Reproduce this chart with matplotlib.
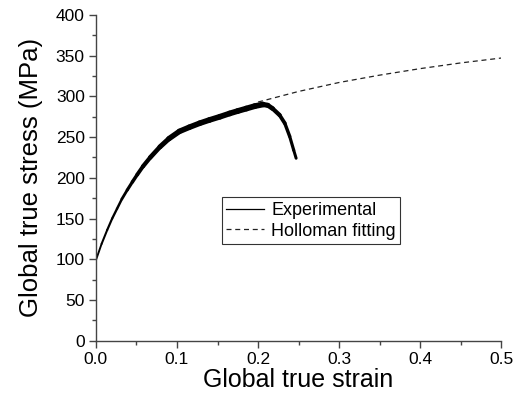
import matplotlib
matplotlib.use("Agg")
import matplotlib.pyplot as plt
import numpy as np
from matplotlib.collections import LineCollection
from matplotlib.lines import Line2D
from matplotlib.ticker import MultipleLocator

plt.rcParams["font.family"] = ["Liberation Sans", "DejaVu Sans"]

# experimental curve
exp_strain = [0.0, 0.007, 0.0139, 0.02, 0.026, 0.032, 0.0386, 0.045, 0.051,
              0.058, 0.067, 0.079, 0.09, 0.103, 0.115, 0.128, 0.14, 0.153,
              0.165, 0.175, 0.1855, 0.196, 0.206, 0.212, 0.218, 0.2266,
              0.233, 0.239, 0.244, 0.247]
exp_stress = [99, 119, 136, 150, 162, 174, 185, 195, 204,
              214, 225, 238, 248, 257, 262, 267, 271, 275,
              279, 282, 285, 288, 290, 289, 285, 277,
              267, 251, 234, 224]

# Holloman fit (dashed)
fit_strain = [0.2, 0.25, 0.3, 0.35, 0.4, 0.45, 0.5]
fit_stress = [293, 306, 317, 326, 334, 341, 347]

fig = plt.figure(figsize=(5.13, 4.01), dpi=100)
ax = fig.add_axes([0.187, 0.150, 0.790, 0.813])

# the measured curve is noisy: thin near the origin, a thick band further up
pts = np.column_stack([exp_strain, exp_stress])
segs = np.stack([pts[:-1], pts[1:]], axis=1)
mid = 0.5 * (pts[:-1, 0] + pts[1:, 0])
widths = np.interp(mid, [0.0, 0.03, 0.06, 0.1, 0.2, 0.215, 0.235, 0.25],
                   [1.3, 1.8, 3.0, 4.0, 4.2, 3.4, 2.5, 2.0])
ax.add_collection(LineCollection(segs, colors="black", linewidths=widths,
                                 capstyle="round", joinstyle="round"))
ax.plot(fit_strain, fit_stress, color="#222222", lw=0.9, ls=(0, (4, 3)))

ax.set_xlim(0, 0.5)
ax.set_ylim(0, 400)
ax.xaxis.set_major_locator(MultipleLocator(0.1))
ax.xaxis.set_minor_locator(MultipleLocator(0.05))
ax.yaxis.set_major_locator(MultipleLocator(50))
ax.yaxis.set_minor_locator(MultipleLocator(25))

for side in ["top", "right"]:
    ax.spines[side].set_visible(False)
for side in ["left", "bottom"]:
    ax.spines[side].set_color("#444444")
    ax.spines[side].set_linewidth(1.0)

ax.tick_params(which="major", direction="out", length=5, width=1,
               color="#444444", labelsize=12.5, pad=3)
ax.tick_params(which="minor", direction="out", length=3, width=1,
               color="#444444")

ax.set_xlabel("Global true strain", fontsize=18, labelpad=1)
ax.set_ylabel("Global true stress (MPa)", fontsize=18.5, labelpad=9)

handles = [Line2D([], [], color="black", lw=0.9),
           Line2D([], [], color="#222222", lw=0.9, ls=(0, (4, 3)))]
leg = ax.legend(handles, ["Experimental", "Holloman fitting"],
                loc="upper left", bbox_to_anchor=(0.31, 0.44), fontsize=13,
                frameon=True, fancybox=False, handlelength=2.1,
                borderpad=0.25, labelspacing=0.2, handletextpad=0.4,
                borderaxespad=0)
leg.get_frame().set_edgecolor("black")
leg.get_frame().set_linewidth(0.8)

fig.savefig("out.png", dpi=100)
